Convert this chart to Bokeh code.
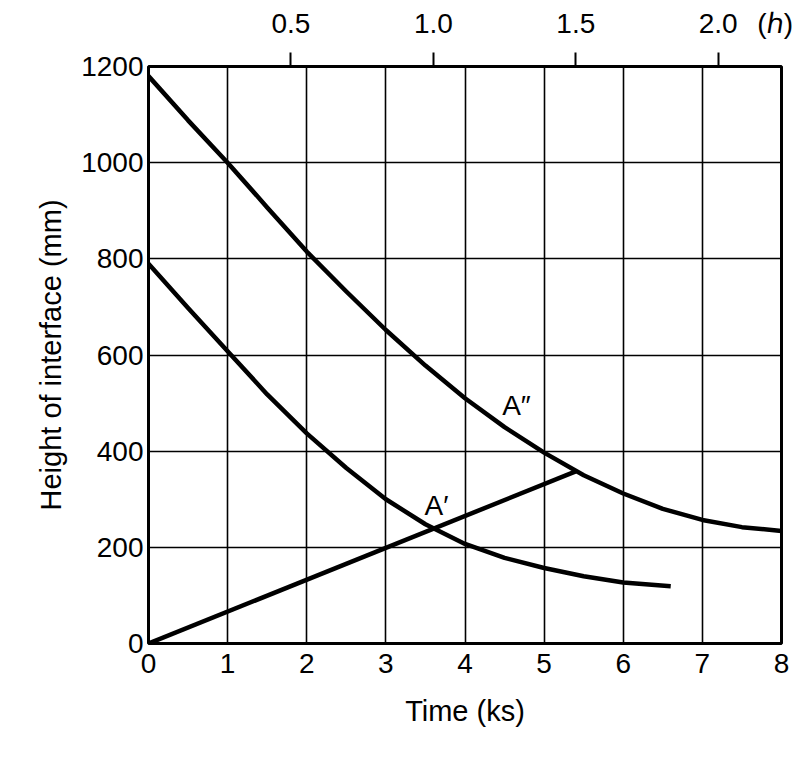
from bokeh.plotting import figure
from bokeh.models import (Range1d, LinearAxis, FixedTicker, Label)
from bokeh.embed import file_html
from bokeh.resources import INLINE

# ---- data ----
upper_t = [0, 0.5, 1, 1.5, 2, 2.5, 3, 3.5, 4, 4.5, 5, 5.5, 6, 6.5, 7, 7.5, 8]
upper_h = [1180, 1088, 1000, 907, 815, 732, 652, 578, 510, 450, 397, 350, 312, 280, 257, 242, 234]

lower_t = [0, 0.5, 1, 1.5, 2, 2.5, 3, 3.5, 4, 4.5, 5, 5.5, 6, 6.6]
lower_h = [790, 698, 608, 518, 437, 365, 300, 248, 207, 178, 157, 140, 127, 119]

line_t = [0, 5.4]
line_h = [0, 358]

x_ticks = [0, 1, 2, 3, 4, 5, 6, 7, 8]
y_ticks = [0, 200, 400, 600, 800, 1000, 1200]
hour_ticks = [0.5, 1.0, 1.5, 2.0]
hour_labels = ["0.5", "1.0", "1.5", "2.0"]
hour_unit_pos = 2.2
hour_unit_label = "(\u210e)"

label_A2 = (4.65, 495, "A\u2033")
label_A1 = (3.64, 287, "A\u2032")

FONT = "Liberation Sans"

p = figure(frame_width=633, frame_height=577,
           min_border_left=148, min_border_right=23,
           min_border_top=66, min_border_bottom=118,
           x_range=Range1d(0, 8), y_range=Range1d(0, 1200),
           output_backend="svg", toolbar_location=None,
           background_fill_color="white", border_fill_color="white")

p.outline_line_color = "black"
p.outline_line_width = 3

# grid
p.xgrid.ticker = FixedTicker(ticks=x_ticks)
p.ygrid.ticker = FixedTicker(ticks=y_ticks)
for g in (p.xgrid, p.ygrid):
    g.grid_line_color = "black"
    g.grid_line_width = 1.6
    g.grid_line_alpha = 1.0

# bottom / left axes
xa = p.xaxis[0]
xa.ticker = FixedTicker(ticks=x_ticks)
xa.axis_label = "Time (ks)"
yaxis = p.yaxis[0]
yaxis.ticker = FixedTicker(ticks=y_ticks)
yaxis.axis_label = "Height of interface (mm)"
for ax in (xa, yaxis):
    ax.axis_line_color = None
    ax.major_tick_line_color = None
    ax.minor_tick_line_color = None
    ax.major_tick_in = 0
    ax.major_tick_out = 0
    ax.major_label_text_font = FONT
    ax.major_label_text_font_size = "28px"
    ax.major_label_text_color = "black"
    ax.axis_label_text_font = FONT
    ax.axis_label_text_font_size = "29px"
    ax.axis_label_text_font_style = "normal"
    ax.axis_label_text_color = "black"
xa.major_label_standoff = 10
xa.axis_label_standoff = 19
yaxis.major_label_standoff = 5
yaxis.axis_label_standoff = 11

# top axis in hours: one axis for the tick marks, one for the labels
p.extra_x_ranges = {"h": Range1d(0, 8 / 3.6)}
top_ticks = LinearAxis(x_range_name="h", ticker=FixedTicker(ticks=hour_ticks))
top_ticks.axis_line_color = None
top_ticks.major_tick_line_color = "black"
top_ticks.major_tick_line_width = 2
top_ticks.major_tick_in = 0
top_ticks.major_tick_out = 14
top_ticks.minor_tick_line_color = None
top_ticks.major_label_text_font_size = "0px"
top_ticks.major_label_text_color = None
top_ticks.major_label_standoff = 0
p.add_layout(top_ticks, "above")

overrides = {t: s for t, s in zip(hour_ticks, hour_labels)}
overrides[hour_unit_pos] = hour_unit_label
top_labels = LinearAxis(x_range_name="h",
                        ticker=FixedTicker(ticks=hour_ticks + [hour_unit_pos]),
                        major_label_overrides=overrides)
top_labels.axis_line_color = None
top_labels.major_tick_line_color = None
top_labels.major_tick_in = 0
top_labels.major_tick_out = 0
top_labels.minor_tick_line_color = None
top_labels.major_label_text_font = FONT
top_labels.major_label_text_font_size = "28px"
top_labels.major_label_text_color = "black"
top_labels.major_label_standoff = 14
p.add_layout(top_labels, "above")

# curves
p.line(upper_t, upper_h, line_color="black", line_width=4.5, line_join="round")
p.line(lower_t, lower_h, line_color="black", line_width=4.5, line_join="round")
p.line(line_t, line_h, line_color="black", line_width=4.5, line_join="round")

# labels
for (lx, ly, txt) in (label_A2, label_A1):
    p.add_layout(Label(x=lx, y=ly, text=txt, text_font=FONT, text_font_size="28px",
                       text_align="center", text_baseline="middle", text_color="black"))

open("out.html", "w").write(file_html(p, INLINE))
